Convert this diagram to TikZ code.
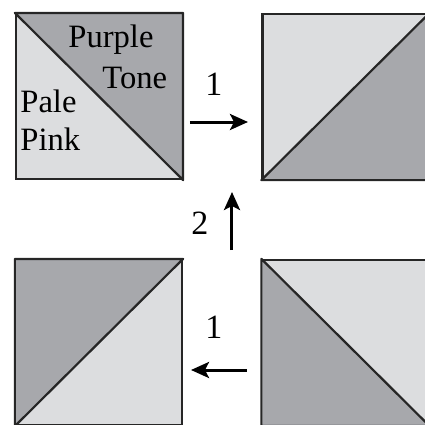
\documentclass[tikz,border=0pt]{standalone}
\usepackage{fontspec}
\setmainfont{Liberation Serif}
\usetikzlibrary{arrows.meta}
\definecolor{palepink}{RGB}{220,221,223}
\definecolor{purpletone}{RGB}{167,168,172}
\begin{document}
\begin{tikzpicture}[x=0.5pt, y=0.5pt,
block/.style={rectangle, draw=black!85, fill=palepink, line width=1.1pt, minimum width=83pt, minimum height=82.5pt, inner sep=0pt},
half/.style={fill=purpletone, draw=black!85, line width=1.1pt, line join=round},
word/.style={anchor=base west, inner sep=0pt, font=\fontsize{16.3}{19}\selectfont},
turn/.style={anchor=base, inner sep=0pt, font=\fontsize{17}{20}\selectfont},
move/.style={-{Stealth[length=9pt, width=8pt, inset=2pt]}, line width=1.5pt},
]
\useasboundingbox (0,0) rectangle (425,425);
\node[block] (S1) at (99,328.5) {};
\node[block] (S2) at (345.5,328.5) {};
\node[block] (S3) at (99,82.5) {};
\node[block] (S4) at (345.5,82.5) {};
\filldraw[half] (S1.north west) -- (S1.north east) -- (S1.south east) -- cycle;
\filldraw[half] (S2.south west) -- (S2.south east) -- (S2.north east) -- cycle;
\filldraw[half] (S3.south west) -- (S3.north west) -- (S3.north east) -- cycle;
\filldraw[half] (S4.north west) -- (S4.south west) -- (S4.south east) -- cycle;
\node[word] (purple) at (68,378) {Purple};
\node[word] (tone) at (102,337) {Tone};
\node[word] (pale) at (20,313) {Pale};
\node[word] (pink) at (20,275) {Pink};
\coordinate (m1a) at (190,303);
\coordinate (m1b) at (248,303);
\coordinate (m2a) at (232,175);
\coordinate (m2b) at (232,233);
\coordinate (m3a) at (247,55);
\coordinate (m3b) at (191,55);
\draw[move] (m1a) -- (m1b);
\draw[move] (m2a) -- (m2b);
\draw[move] (m3a) -- (m3b);
\node[turn] (t1) at (214,330) {1};
\node[turn] (t2) at (200,191) {2};
\node[turn] (t3) at (214,87) {1};
\end{tikzpicture}
\end{document}
